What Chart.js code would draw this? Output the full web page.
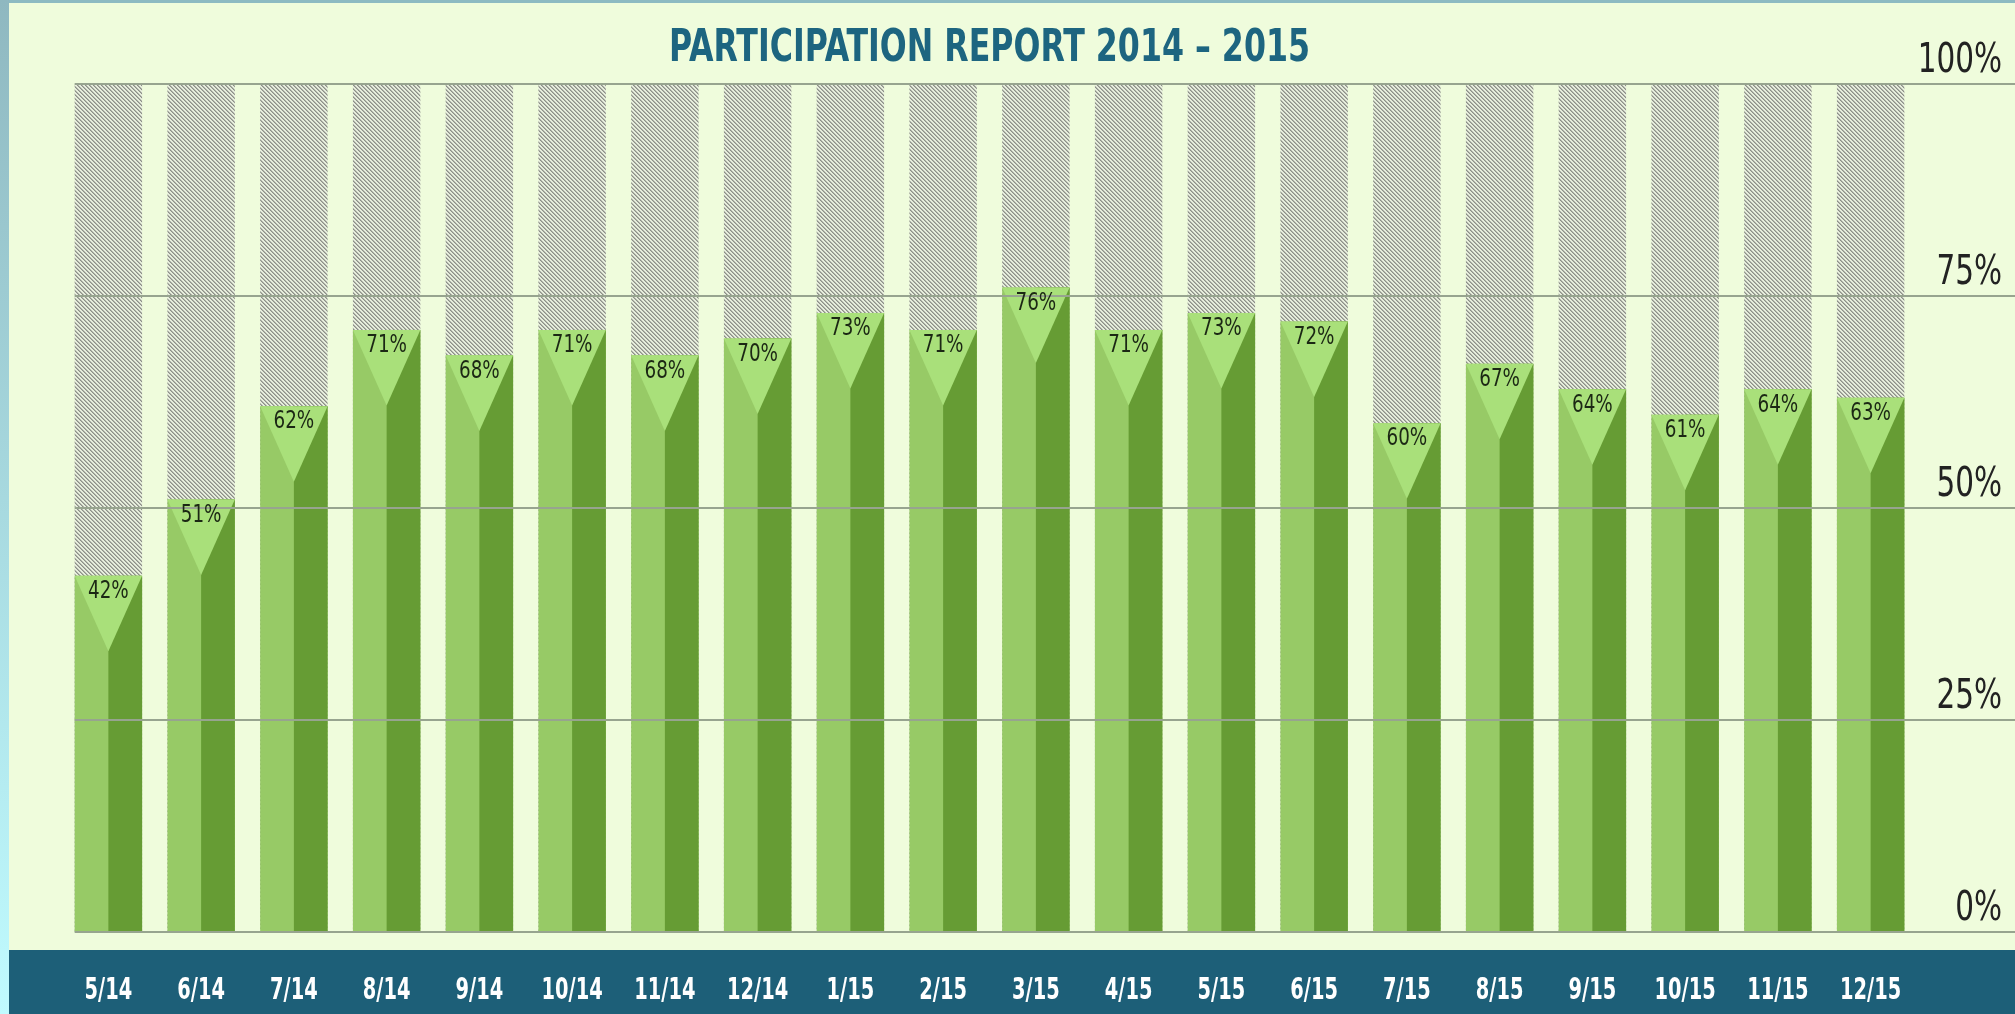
<!DOCTYPE html>
<html>
<head>
<meta charset="utf-8">
<title>Participation Report 2014 – 2015</title>
<script src="https://cdn.jsdelivr.net/npm/chart.js@4.4.1/dist/chart.umd.min.js"></script>
<style>
    html, body { margin: 0; padding: 0; background: #effcdc; }
    #wrap { position: relative; width: 2015px; height: 1014px; }
</style>
</head>
<body>
<div id="wrap"><canvas id="chart"></canvas></div>
<script>
// chart data
const months = ['5/14', '6/14', '7/14', '8/14', '9/14', '10/14', '11/14', '12/14', '1/15', '2/15',
    '3/15', '4/15', '5/15', '6/15', '7/15', '8/15', '9/15', '10/15', '11/15', '12/15'];
const participation = [42, 51, 62, 71, 68, 71, 68, 70, 73, 71, 76, 71, 73, 72, 60, 67, 64, 61, 64, 63];
const capacity = [100, 100, 100, 100, 100, 100, 100, 100, 100, 100,
    100, 100, 100, 100, 100, 100, 100, 100, 100, 100];
const yTicks = [0, 25, 50, 75, 100];
const chartTitle = 'PARTICIPATION REPORT 2014 – 2015';

// no narrow font installed, so the condensed look is done with a horizontal squeeze
const FONT = "'DejaVu Sans Condensed', 'DejaVu Sans', sans-serif";
const COLORS = {
    page: '#effcdc',
    lightGreen: '#97ca66',
    darkGreen: '#669c34',
    tip: '#a9e07a',
    grid: '#97a48f',
    band: '#1d5f78',
    title: '#1d6580'
};

function makeHatch() {
    const size = 4;
    // one shade per diagonal offset: dark line, soft edge, two light gaps
    const shades = [[140, 143, 136], [178, 182, 171], [234, 242, 224], [226, 233, 216]];
    const c = document.createElement('canvas');
    c.width = size;
    c.height = size;
    const g = c.getContext('2d');
    const img = g.createImageData(size, size);
    for (let y = 0; y < size; y++) {
        for (let x = 0; x < size; x++) {
            const col = shades[(x - y + size) % size];
            const i = (y * size + x) * 4;
            img.data[i] = col[0];
            img.data[i + 1] = col[1];
            img.data[i + 2] = col[2];
            img.data[i + 3] = 255;
        }
    }
    g.putImageData(img, 0, 0);
    return g.createPattern(c, 'repeat');
}

function squeezedText(ctx, text, x, y, font, squeeze, align, baseline) {
    ctx.save();
    ctx.translate(x, y);
    ctx.scale(squeeze, 1);
    ctx.font = font;
    ctx.textAlign = align;
    ctx.textBaseline = baseline;
    ctx.fillText(text, 0, 0);
    ctx.restore();
}

const backdrop = {
    id: 'backdrop',
    beforeDraw(chart) {
        const { ctx, width, height, chartArea } = chart;
        ctx.save();
        ctx.fillStyle = COLORS.page;
        ctx.fillRect(0, 0, width, height);
        // band behind the month labels
        ctx.fillStyle = COLORS.band;
        ctx.fillRect(0, chartArea.bottom + 18, width, height);
        // thin frame on top and left
        ctx.fillStyle = '#8dbac2';
        ctx.fillRect(0, 0, width, 3);
        const grad = ctx.createLinearGradient(0, 0, 0, height);
        grad.addColorStop(0, '#8fb8c0');
        grad.addColorStop(1, '#c0fbff');
        ctx.fillStyle = grad;
        ctx.fillRect(0, 0, 9, height);

        ctx.fillStyle = COLORS.title;
        squeezedText(ctx, chartTitle, (chartArea.left + chartArea.right) / 2, 61,
            'bold 44px ' + FONT, 0.8, 'center', 'alphabetic');
        ctx.restore();
    }
};

const barDecor = {
    id: 'barDecor',
    afterDatasetsDraw(chart) {
        const { ctx, width, chartArea } = chart;
        const meta = chart.getDatasetMeta(0);
        const xScale = chart.scales.x;
        const yScale = chart.scales.y;
        const bars = meta.data;
        ctx.save();

        // darker right half of every bar
        ctx.fillStyle = COLORS.darkGreen;
        bars.forEach(bar => {
            ctx.fillRect(bar.x, bar.y, bar.width / 2, bar.base - bar.y);
        });

        // light triangle pointing down from the top of each bar
        ctx.fillStyle = COLORS.tip;
        bars.forEach(bar => {
            const left = bar.x - bar.width / 2;
            ctx.beginPath();
            ctx.moveTo(left, bar.y);
            ctx.lineTo(left + bar.width, bar.y);
            ctx.lineTo(bar.x, bar.y + bar.width * 1.12);
            ctx.closePath();
            ctx.fill();
        });

        // grid lines run over the bars out to the right edge
        const startX = bars[0].x - bars[0].width / 2;
        ctx.strokeStyle = COLORS.grid;
        ctx.lineWidth = 2;
        yScale.ticks.forEach(t => {
            const py = Math.round(yScale.getPixelForValue(t.value));
            ctx.beginPath();
            ctx.moveTo(startX, py);
            ctx.lineTo(width, py);
            ctx.stroke();
        });

        // percent labels sit above their grid line at the right
        ctx.fillStyle = '#222222';
        yScale.ticks.forEach(t => {
            const py = yScale.getPixelForValue(t.value);
            squeezedText(ctx, t.value + '%', chartArea.right + 85, py - 12,
                '41px ' + FONT, 0.8, 'right', 'alphabetic');
        });

        // value labels inside the triangles
        ctx.fillStyle = '#1b2714';
        bars.forEach((bar, i) => {
            squeezedText(ctx, participation[i] + '%', bar.x, bar.y + 16,
                '24px ' + FONT, 0.85, 'center', 'middle');
        });

        // month labels in the band
        ctx.fillStyle = '#ffffff';
        chart.data.labels.forEach((lab, i) => {
            squeezedText(ctx, lab, xScale.getPixelForValue(i), chartArea.bottom + 67,
                'bold 30px ' + FONT, 0.72, 'center', 'alphabetic');
        });
        ctx.restore();
    }
};

document.addEventListener('DOMContentLoaded', () => {
    Chart.defaults.font.family = FONT;
    const ctx = document.getElementById('chart').getContext('2d');

    new Chart(ctx, {
        type: 'bar',
        data: {
            labels: months,
            datasets: [{
                label: 'Participation',
                data: participation,
                backgroundColor: COLORS.lightGreen,
                borderWidth: 0,
                grouped: false,
                order: 1,
                barPercentage: 0.727,
                categoryPercentage: 1
            }, {
                label: 'Capacity',
                data: capacity,
                backgroundColor: makeHatch(),
                borderWidth: 0,
                grouped: false,
                order: 2,
                barPercentage: 0.727,
                categoryPercentage: 1
            }]
        },
        options: {
            responsive: true,
            maintainAspectRatio: false,
            animation: false,
            layout: {
                padding: { left: 62, right: 98, top: 84, bottom: 82 }
            },
            plugins: {
                legend: { display: false },
                tooltip: { enabled: false },
                title: { display: false }
            },
            scales: {
                x: {
                    display: false
                },
                y: {
                    display: false,
                    min: 0,
                    max: 100,
                    afterBuildTicks(scale) {
                        scale.ticks = yTicks.map(v => ({ value: v }));
                    }
                }
            }
        },
        plugins: [backdrop, barDecor]
    });
});
</script>
</body>
</html>
